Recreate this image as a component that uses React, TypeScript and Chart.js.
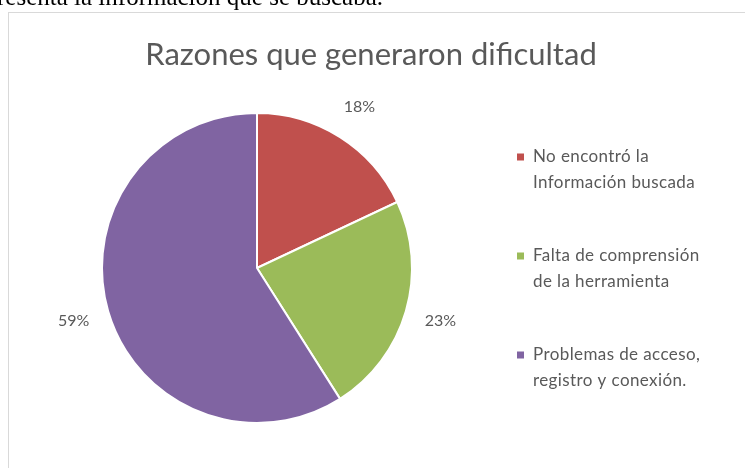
import React, { useEffect, useRef } from "react";
import { Chart, registerables } from "chart.js";

Chart.register(...registerables);

const TITLE = "Razones que generaron dificultad";
const CATEGORIES: string[][] = [
  ["No encontró la", "Información buscada"],
  ["Falta de comprensión", "de la herramienta"],
  ["Problemas de acceso,", "registro y conexión."],
];
const VALUES = [18, 23, 59];
const VALUE_LABELS = ["18%", "23%", "59%"];
const COLORS = ["#C0504D", "#9BBB59", "#8064A2"];
const TEXT_COLOR = "#595959";
const FONT = "Lato, 'Open Sans', sans-serif";

const W = 736;
const H = 455;

const overlayPlugin = {
  id: "overlay",
  afterDraw(chart: any) {
    const ctx = chart.ctx;
    ctx.save();
    // title
    ctx.fillStyle = TEXT_COLOR;
    ctx.font = `31px ${FONT}`;
    ctx.textAlign = "center";
    ctx.textBaseline = "alphabetic";
    ctx.fillText(TITLE, 362, 52);

    // value labels outside slices
    const meta = chart.getDatasetMeta(0);
    ctx.font = `16px ${FONT}`;
    ctx.textBaseline = "middle";
    meta.data.forEach((arc: any, i: number) => {
      const p = arc.getProps(["x", "y", "startAngle", "endAngle", "outerRadius"], true);
      const mid = (p.startAngle + p.endAngle) / 2;
      const r = p.outerRadius + 36;
      ctx.fillText(VALUE_LABELS[i], p.x + Math.cos(mid) * r, p.y + Math.sin(mid) * r);
    });

    // legend
    ctx.textAlign = "left";
    ctx.font = `17px ${FONT}`;
    (ctx as any).letterSpacing = "0.4px";
    CATEGORIES.forEach((lines, i) => {
      const y0 = 144 + i * 99;
      ctx.fillStyle = COLORS[i];
      ctx.fillRect(508, y0 - 3.5, 7, 7);
      ctx.fillStyle = TEXT_COLOR;
      lines.forEach((ln, j) => {
        ctx.fillText(ln, 524, y0 + j * 26);
      });
    });
    (ctx as any).letterSpacing = "0px";
    ctx.restore();
  },
};

export default function App() {
  const ref = useRef<HTMLCanvasElement | null>(null);
  useEffect(() => {
    if (!ref.current) return;
    const chart = new Chart(ref.current, {
      type: "pie",
      data: {
        labels: CATEGORIES.map((l) => l.join(" ")),
        datasets: [
          {
            data: VALUES,
            backgroundColor: COLORS,
            borderColor: "#ffffff",
            borderWidth: 2,
          },
        ],
      },
      options: {
        responsive: false,
        animation: false,
        layout: { padding: { left: 92, top: 99, right: W - 404, bottom: H - 411 } },
        plugins: {
          legend: { display: false },
          title: { display: false },
          tooltip: { enabled: false },
        },
      },
      plugins: [overlayPlugin],
    });
    return () => chart.destroy();
  }, []);

  return (
    <div>
      <div
        style={{
          position: "fixed",
          right: 362,
          top: -16,
          whiteSpace: "nowrap",
          fontFamily: "'Liberation Serif', serif",
          fontSize: 25,
          lineHeight: "25px",
          color: "#000",
        }}
      >
        se presenta la información que se buscaba.
      </div>
      <div
        style={{
          position: "fixed",
          left: 8,
          top: 12,
          width: 737,
          height: 470,
          borderTop: "1px solid #d9d9d9",
          borderLeft: "1px solid #d9d9d9",
          boxSizing: "border-box",
          background: "#fff",
        }}
      >
        <canvas ref={ref} width={W} height={H} style={{ display: "block", width: W, height: H }} />
      </div>
    </div>
  );
}
